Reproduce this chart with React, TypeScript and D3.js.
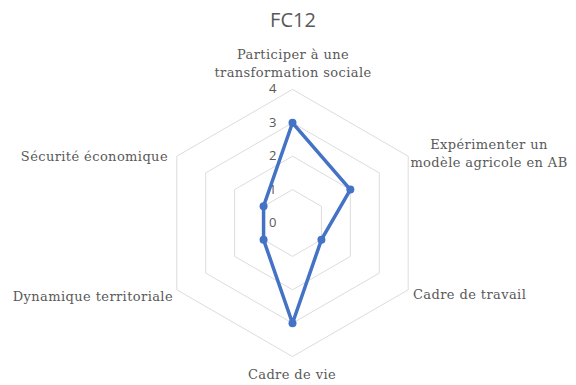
import React, { useEffect, useRef } from "react";
import * as d3 from "d3";

const title = "FC12";
const categories = [
  ["Participer à une", "transformation sociale"],
  ["Expérimenter un", "modèle agricole en AB"],
  ["Cadre de travail"],
  ["Cadre de vie"],
  ["Dynamique territoriale"],
  ["Sécurité économique"],
];
const values = [3, 2, 1, 3, 1, 1];
const ticks = [0, 1, 2, 3, 4];

const App = () => {
  const svgRef = useRef<SVGSVGElement>(null);

  useEffect(() => {
    const svg = d3.select(svgRef.current);
    svg.selectAll("*").remove();

    const width = 576;
    const height = 385;
    const cx = 292.5;
    const cy = 223;
    const n = categories.length;

    const r = d3.scaleLinear().domain([0, 4]).range([0, 133.6]);
    const angle = (i: number) => (i * 2 * Math.PI) / n;
    const pt = (i: number, v: number): [number, number] => [
      cx + r(v) * Math.sin(angle(i)),
      cy - r(v) * Math.cos(angle(i)),
    ];

    svg.attr("width", width).attr("height", height);
    svg.append("rect").attr("width", width).attr("height", height).attr("fill", "#fff");

    // grid rings
    ticks.forEach((t) => {
      const ring = d3.range(n).map((i) => pt(i, t));
      svg
        .append("path")
        .attr("d", d3.line()(ring) + "Z")
        .attr("fill", "none")
        .attr("stroke", "#dcdcdc")
        .attr("stroke-width", 1);
    });

    // tick labels
    svg
      .selectAll("text.tick")
      .data(ticks)
      .enter()
      .append("text")
      .attr("class", "tick")
      .attr("x", cx - 16)
      .attr("y", (d) => cy - r(d) + 4)
      .attr("text-anchor", "end")
      .style("font-family", "'Open Sans', sans-serif")
      .style("font-size", "13px")
      .style("fill", "#595959")
      .text((d) => d);

    // series
    const pts = values.map((v, i) => pt(i, v));
    svg
      .append("path")
      .attr("d", d3.line()(pts) + "Z")
      .attr("fill", "none")
      .attr("stroke", "#4472c4")
      .attr("stroke-width", 3.5)
      .attr("stroke-linejoin", "round");
    svg
      .selectAll("circle")
      .data(pts)
      .enter()
      .append("circle")
      .attr("cx", (d) => d[0])
      .attr("cy", (d) => d[1])
      .attr("r", 4)
      .attr("fill", "#4472c4");

    // category labels
    const labelPos: { x: number; y: number; anchor: string }[] = [
      { x: 293, y: 59, anchor: "middle" },
      { x: 489, y: 149, anchor: "middle" },
      { x: 413, y: 299, anchor: "start" },
      { x: 292, y: 379, anchor: "middle" },
      { x: 173, y: 301, anchor: "end" },
      { x: 168, y: 161, anchor: "end" },
    ];
    categories.forEach((lines, i) => {
      const p = labelPos[i];
      const t = svg
        .append("text")
        .attr("x", p.x)
        .attr("y", p.y)
        .attr("text-anchor", p.anchor)
        .style("font-family", "'DejaVu Serif', serif")
        .style("font-size", "13px")
        .style("letter-spacing", "0.4px")
        .style("fill", "#595959");
      lines.forEach((l, k) => {
        t.append("tspan").attr("x", p.x).attr("dy", k === 0 ? 0 : 18).text(l);
      });
    });

    // title
    svg
      .append("text")
      .attr("x", 293)
      .attr("y", 27)
      .attr("text-anchor", "middle")
      .style("font-family", "'Open Sans', sans-serif")
      .style("font-size", "20px")
      .style("fill", "#595959")
      .text(title);
  }, []);

  return <svg ref={svgRef} style={{ position: "absolute", left: 0, top: 0 }} />;
};

export default App;
